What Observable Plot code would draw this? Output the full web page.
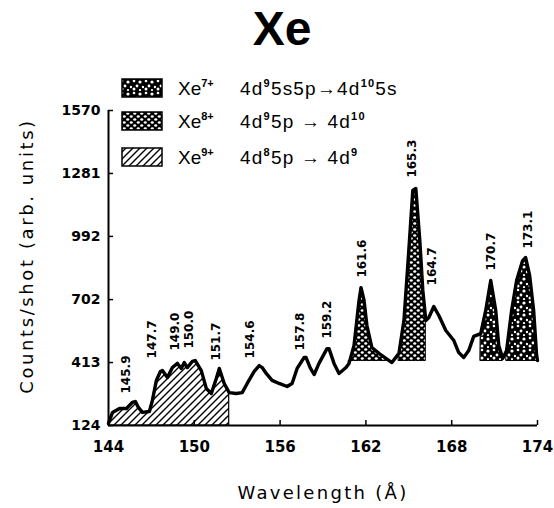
<!DOCTYPE html>
<html><head><meta charset="utf-8">
<script src="https://cdn.jsdelivr.net/npm/d3@7"></script>
<script src="https://cdn.jsdelivr.net/npm/@observablehq/plot@0.6"></script>
<style>body{margin:0;background:#fff} #chart{width:554px;height:508px}</style>
</head><body><div id="chart"></div>
<script>
// ---- data ----
const wavelength = [144.00,144.28,144.77,145.26,145.67,145.88,146.09,146.37,146.86,147.07,147.35,147.63,147.77,148.12,148.47,148.82,149.09,149.30,149.51,149.86,150.07,150.49,150.84,151.19,151.54,151.75,152.09,152.44,152.93,153.35,153.70,154.19,154.54,154.75,155.03,155.44,155.93,156.49,156.84,157.19,157.68,157.82,158.10,158.38,158.72,159.28,159.42,159.77,160.12,160.61,160.82,161.17,161.52,161.66,161.87,162.07,162.42,162.91,163.40,163.82,164.31,164.66,165.00,165.28,165.49,165.77,165.98,166.19,166.40,166.75,167.10,167.59,168.15,168.49,168.84,169.19,169.54,170.03,170.38,170.73,171.08,171.29,171.57,171.84,172.19,172.54,172.96,173.17,173.45,173.73,173.94,174.00];
const counts = [133,184,202,202,230,234,207,184,188,239,331,372,376,344,390,409,386,413,390,418,422,376,294,271,340,386,317,275,271,275,317,372,399,390,363,331,317,303,317,386,436,436,390,358,409,477,477,409,363,390,409,491,698,757,698,583,482,455,432,413,455,606,927,1203,1212,973,744,606,620,670,629,560,514,459,436,468,533,546,652,790,652,491,432,468,652,790,881,895,813,652,445,422];

const xTicks = [144,150,156,162,168,174];
const yTicks = [124,413,702,992,1281,1570];

const peakLabels = ["145.9","147.7","149.0","150.0","151.7","154.6","157.8","159.2","161.6","165.3","164.7","170.7","173.1"];
const labelWavelength = [145.26,147.07,148.68,149.65,151.54,153.91,157.40,159.28,161.72,165.21,166.61,170.73,173.38];
const labelCounts = [271,432,468,477,422,432,468,523,803,1262,767,835,936];

const ions = ["7+","8+","9+"];
const transitions = [
  [["4d",""],["9","sup"],["5s5p→4d",""],["10","sup"],["5s",""]],
  [["4d",""],["9","sup"],["5p → 4d",""],["10","sup"]],
  [["4d",""],["8","sup"],["5p → 4d",""],["9","sup"]]
];
const patterns = ["dots","lattice","hatch"];

const xe9Range = [144, 152.44];
const xe8Ranges = [[160.82,163.82],[164.31,166.19]];
const xe7Ranges = [[170.03,171.57],[171.84,174.00]];
const fillBase = 420;

const data = wavelength.map((w,i)=>({w, c: counts[i]}));
const inRange = r => data.filter(d => d.w >= r[0] && d.w <= r[1]);

const font = "DejaVu Sans";
const marks = [
  Plot.areaY(inRange(xe9Range), {x:"w", y1:124, y2:"c", fill:"url(#hatch)", stroke:"black", strokeWidth:1.2}),
  ...xe8Ranges.map(r => Plot.areaY(inRange(r), {x:"w", y1:fillBase, y2:"c", fill:"url(#lattice)", stroke:"black", strokeWidth:1})),
  ...xe7Ranges.map(r => Plot.areaY(inRange(r), {x:"w", y1:fillBase, y2:"c", fill:"url(#dots)", stroke:"black", strokeWidth:1})),
  Plot.line(data, {x:"w", y:"c", stroke:"black", strokeWidth:3.4, strokeLinejoin:"round"}),
  Plot.ruleX([144], {y1:124, y2:1570, stroke:"black", strokeWidth:2}),
  Plot.ruleY([124], {x1:144, x2:174, stroke:"black", strokeWidth:2}),
  Plot.axisY(yTicks, {tickSize:-5, tickPadding:13, fontSize:14, fontWeight:"bold", fontFamily:font, fill:"black", stroke:"black", strokeWidth:1.5, label:null, tickFormat:d=>String(d)}),
  Plot.axisX(xTicks, {tickSize:-5, tickPadding:21, fontSize:15, fontWeight:"bold", fontFamily:font, fill:"black", stroke:"black", strokeWidth:1.5, label:null, tickFormat:d=>String(d)}),
  Plot.text(peakLabels, {x:(d,i)=>labelWavelength[i], y:(d,i)=>labelCounts[i], text:d=>d, rotate:-90, textAnchor:"start", lineAnchor:"middle", fontSize:12, fontWeight:"bold", fontFamily:font, fill:"black"})
];

const chart = Plot.plot({
  width:554, height:508,
  marginLeft:108, marginRight:17, marginTop:110, marginBottom:83,
  x:{domain:[144,174]},
  y:{domain:[124,1570]},
  style:{background:"white", color:"black", overflow:"visible"},
  marks
});
document.getElementById("chart").appendChild(chart);

const svg = d3.select(chart);
const defs = svg.append("defs");
// hatch pattern (Xe9+)
const ph = defs.append("pattern").attr("id","hatch").attr("patternUnits","userSpaceOnUse").attr("width",7).attr("height",7);
ph.append("rect").attr("width",7).attr("height",7).attr("fill","white");
ph.append("path").attr("d","M-1,1 l2,-2 M0,7 l7,-7 M6,8 l2,-2").attr("stroke","black").attr("stroke-width",1.4);
// lattice pattern (Xe8+)
const pl = defs.append("pattern").attr("id","lattice").attr("patternUnits","userSpaceOnUse").attr("width",7).attr("height",6);
pl.append("rect").attr("width",7).attr("height",6).attr("fill","black");
[[1.75,1.5],[5.25,4.5]].forEach(([cx,cy])=>pl.append("ellipse").attr("cx",cx).attr("cy",cy).attr("rx",1.6).attr("ry",1.3).attr("fill","white"));
// dots pattern (Xe7+)
const pd = defs.append("pattern").attr("id","dots").attr("patternUnits","userSpaceOnUse").attr("width",12).attr("height",12);
pd.append("rect").attr("width",12).attr("height",12).attr("fill","black");
[[2,2,1.3],[8,3,1.6],[5,7,1.4],[11,8,1.2],[2,10,1.5],[8,11,1.1]].forEach(([cx,cy,r])=>pd.append("circle").attr("cx",cx).attr("cy",cy).attr("r",r).attr("fill","white"));

// title
svg.append("text").attr("x",282).attr("y",45).attr("text-anchor","middle")
  .attr("font-family","Liberation Sans").attr("font-weight","bold").attr("font-size",48).attr("fill","black").text("Xe");

// axis titles
svg.append("text").attr("transform","translate(33,256) rotate(-90)").attr("text-anchor","middle")
  .attr("font-family",font).attr("font-size",18).attr("letter-spacing",2.6).attr("fill","black").text("Counts/shot (arb. units)");
svg.append("text").attr("x",323).attr("y",499).attr("text-anchor","middle")
  .attr("font-family",font).attr("font-size",18).attr("letter-spacing",2.3).attr("fill","black").text("Wavelength (Å)");

// legend
const rowTop = [79,112,148];
ions.forEach((ion,i)=>{
  const g = svg.append("g").attr("transform",`translate(0,${rowTop[i]})`);
  g.append("rect").attr("x",122).attr("y",0).attr("width",40).attr("height",18)
    .attr("fill",`url(#${patterns[i]})`).attr("stroke","black").attr("stroke-width",1.5);
  const t1 = g.append("text").attr("x",178).attr("y",16).attr("text-anchor","start").attr("font-family","Liberation Sans").attr("font-size",19).attr("fill","black");
  t1.append("tspan").text("Xe");
  t1.append("tspan").attr("font-size",11).attr("dy",-8).attr("font-weight","bold").text(ion);
  const t2 = g.append("text").attr("x",240).attr("y",16).attr("text-anchor","start").attr("font-family","Liberation Sans").attr("font-size",19).attr("letter-spacing",1.2).attr("fill","black");
  let up = false;
  transitions[i].forEach(([s,kind])=>{
    const ts = t2.append("tspan").text(s);
    if (kind==="sup" && !up){ ts.attr("font-size",11).attr("dy",-8).attr("font-weight","bold"); up = true; }
    else if (kind!=="sup" && up){ ts.attr("dy",8); up = false; }
    else if (kind==="sup") ts.attr("font-size",11).attr("font-weight","bold");
  });
});
</script></body></html>
